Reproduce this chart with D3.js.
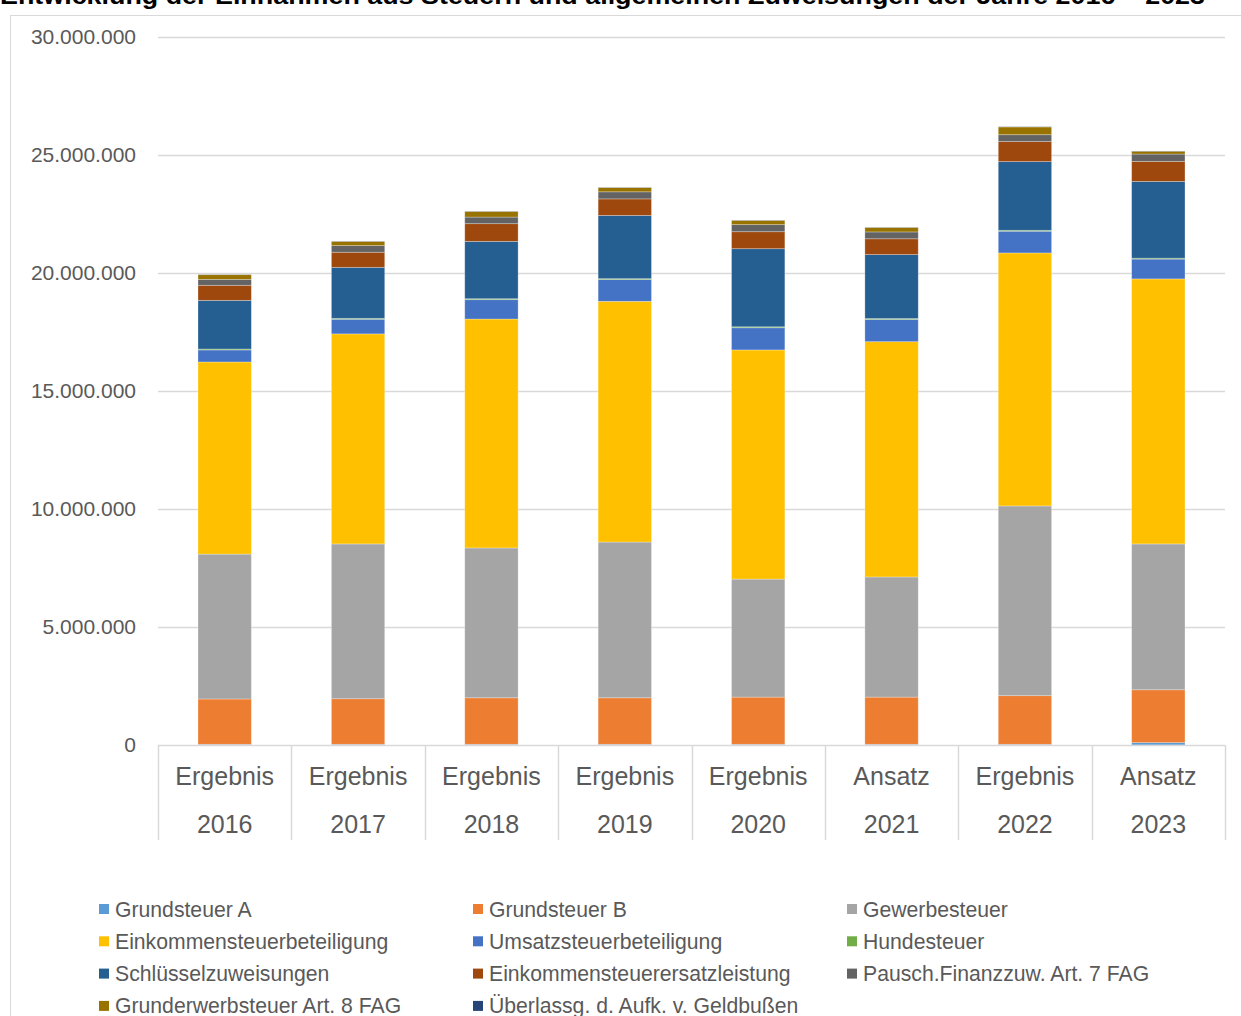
<!DOCTYPE html>
<html>
<head>
<meta charset="utf-8">
<script src="https://cdn.jsdelivr.net/npm/d3@7"></script>
<style>
  body { margin: 0; background: #fff; }
  text { font-family: Arial, "Liberation Sans", sans-serif; }
</style>
</head>
<body>
<div id="chart"></div>
<script>
// categories (two-line labels)
var kinds = ["Ergebnis", "Ergebnis", "Ergebnis", "Ergebnis", "Ergebnis", "Ansatz", "Ergebnis", "Ansatz"];
var years = ["2016", "2017", "2018", "2019", "2020", "2021", "2022", "2023"];

// series names, bottom to top
var seriesNames = ["Grundsteuer A", "Grundsteuer B", "Gewerbesteuer", "Einkommensteuerbeteiligung",
  "Umsatzsteuerbeteiligung", "Hundesteuer", "Schlüsselzuweisungen", "Einkommensteuerersatzleistung",
  "Pausch.Finanzzuw. Art. 7 FAG", "Grunderwerbsteuer Art. 8 FAG", "Überlassg. d. Aufk. v. Geldbußen"];

var grundsteuerA   = [30000, 30000, 30000, 30000, 30000, 30000, 30000, 100000];
var grundsteuerB   = [1920000, 1930000, 1970000, 1970000, 2000000, 2000000, 2060000, 2240000];
var gewerbesteuer  = [6140000, 6560000, 6350000, 6600000, 5000000, 5090000, 8040000, 6180000];
var einkommenst    = [8140000, 8900000, 9700000, 10200000, 9710000, 9970000, 10720000, 11230000];
var umsatzst       = [510000, 620000, 820000, 920000, 940000, 940000, 920000, 840000];
var hundesteuer    = [40000, 40000, 40000, 40000, 40000, 40000, 40000, 40000];
var schluessel     = [2060000, 2160000, 2430000, 2680000, 3310000, 2710000, 2910000, 3250000];
var estErsatz      = [640000, 640000, 750000, 700000, 720000, 670000, 850000, 850000];
var pauschFin      = [250000, 280000, 280000, 300000, 300000, 290000, 290000, 310000];
var grunderwerb    = [200000, 180000, 240000, 180000, 180000, 190000, 330000, 120000];
var geldbussen     = [10000, 10000, 10000, 10000, 10000, 10000, 10000, 10000];

var yTicks = [0, 5000000, 10000000, 15000000, 20000000, 25000000, 30000000];

var colors = ["#5B9BD5", "#ED7D31", "#A5A5A5", "#FFC000", "#4472C4", "#70AD47",
  "#255E91", "#9E480E", "#636363", "#997300", "#264478"];

var seriesValues = [grundsteuerA, grundsteuerB, gewerbesteuer, einkommenst, umsatzst, hundesteuer,
  schluessel, estErsatz, pauschFin, grunderwerb, geldbussen];

var rows = years.map(function(y, i) {
  var r = { year: y, kind: kinds[i] };
  seriesNames.forEach(function(n, k) { r[n] = seriesValues[k][i]; });
  return r;
});

var W = 1241, H = 1016;
var svg = d3.select("#chart").append("svg").attr("width", W).attr("height", H);

// title, cut at the top edge like the source
svg.append("text").attr("x", 0).attr("y", 4)
  .attr("font-size", "23px").attr("font-weight", "bold").attr("fill", "#000")
  .attr("textLength", 1205).attr("lengthAdjust", "spacingAndGlyphs")
  .text("Entwicklung der Einnahmen aus Steuern und allgemeinen Zuweisungen der Jahre 2016 – 2023");

// chart frame
svg.append("rect").attr("x", 10.5).attr("y", 15.5).attr("width", 1240).attr("height", 1010)
  .attr("fill", "none").attr("stroke", "#d9d9d9");

var plotLeft = 158, plotRight = 1225, plotTop = 37, plotBottom = 745;

var x = d3.scaleBand().domain(years).range([plotLeft, plotRight]);
var y = d3.scaleLinear().domain([0, 30000000]).range([plotBottom, plotTop]);

var de = d3.formatLocale({ decimal: ",", thousands: ".", grouping: [3], currency: ["", "€"] });
var fmt = de.format(",.0f");

// gridlines
svg.append("g").selectAll("line").data(yTicks.slice(1)).enter().append("line")
  .attr("x1", plotLeft).attr("x2", plotRight)
  .attr("y1", function(d) { return Math.round(y(d)) + 0.5; })
  .attr("y2", function(d) { return Math.round(y(d)) + 0.5; })
  .attr("stroke", "#d9d9d9").attr("stroke-width", 1.5);

// y axis labels
var yAxis = d3.axisLeft(y).tickValues(yTicks).tickFormat(fmt).tickSize(0).tickPadding(22);
var gy = svg.append("g").attr("transform", "translate(" + plotLeft + ",0)").call(yAxis);
gy.select(".domain").remove();
gy.selectAll("text").attr("font-size", "21px").attr("fill", "#595959")
  .attr("font-family", "Arial, 'Liberation Sans', sans-serif");

// stacked bars
var stack = d3.stack().keys(seriesNames);
var layers = stack(rows);
var barW = x.bandwidth() * 0.4;

svg.append("g").selectAll("g").data(layers).enter().append("g")
  .attr("fill", function(d, i) { return colors[i]; })
  .selectAll("rect").data(function(d) { return d; }).enter().append("rect")
  .attr("x", function(d) { return x(d.data.year) + (x.bandwidth() - barW) / 2; })
  .attr("width", barW)
  .attr("y", function(d) { return y(d[1]); })
  .attr("height", function(d) { return Math.max(0, y(d[0]) - y(d[1])); })
  .attr("stroke", "#fff").attr("stroke-opacity", 0.35).attr("stroke-width", 0.8);

// x axis line and category separators
svg.append("line").attr("x1", plotLeft).attr("x2", plotRight)
  .attr("y1", plotBottom + 0.5).attr("y2", plotBottom + 0.5)
  .attr("stroke", "#d9d9d9").attr("stroke-width", 1.5);
var seps = years.map(function(d) { return x(d); }).concat([plotRight]);
svg.append("g").selectAll("line").data(seps).enter().append("line")
  .attr("x1", function(d) { return Math.round(d) + 0.5; })
  .attr("x2", function(d) { return Math.round(d) + 0.5; })
  .attr("y1", plotBottom).attr("y2", 840)
  .attr("stroke", "#d9d9d9").attr("stroke-width", 1.5);

var cat = svg.append("g").selectAll("g").data(rows).enter().append("g")
  .attr("transform", function(d) { return "translate(" + (x(d.year) + x.bandwidth() / 2) + ",0)"; });
cat.append("text").attr("y", 785).attr("text-anchor", "middle")
  .attr("font-size", "25px").attr("fill", "#595959").text(function(d) { return d.kind; });
cat.append("text").attr("y", 833).attr("text-anchor", "middle")
  .attr("font-size", "25px").attr("fill", "#595959").text(function(d) { return d.year; });

// legend, 3 columns
var legend = svg.append("g").selectAll("g").data(seriesNames).enter().append("g")
  .attr("transform", function(d, i) {
    return "translate(" + (99 + (i % 3) * 374) + "," + (909 + Math.floor(i / 3) * 32.3) + ")";
  });
legend.append("rect").attr("x", 0).attr("y", -5).attr("width", 10).attr("height", 10)
  .attr("fill", function(d, i) { return colors[i]; });
legend.append("text").attr("x", 16).attr("y", 7.5)
  .attr("font-size", "21.2px").attr("fill", "#595959").text(function(d) { return d; });
</script>
</body>
</html>
